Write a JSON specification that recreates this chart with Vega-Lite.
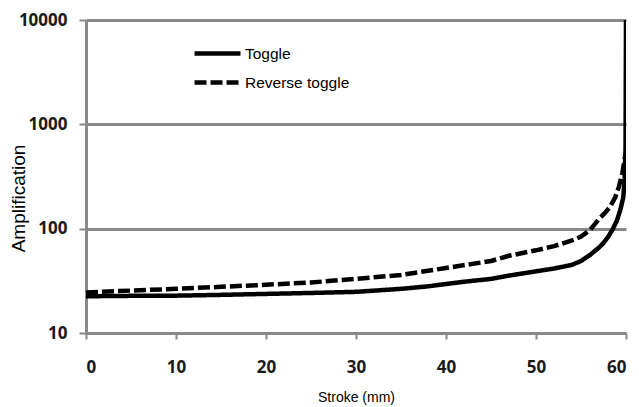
{
  "$schema": "https://vega.github.io/schema/vega-lite/v6.json",
  "width": 540,
  "height": 313,
  "autosize": {"type": "none"},
  "padding": {"left": 86, "top": 20, "right": 13, "bottom": 74},
  "background": "white",
  "config": {"view": {"stroke": null}},
  "data": {"values": [
    {"stroke": 0, "amp": 22.5, "series": "Toggle"},
    {"stroke": 5, "amp": 22.7, "series": "Toggle"},
    {"stroke": 10, "amp": 22.8, "series": "Toggle"},
    {"stroke": 15, "amp": 23.2, "series": "Toggle"},
    {"stroke": 20, "amp": 23.7, "series": "Toggle"},
    {"stroke": 25, "amp": 24.2, "series": "Toggle"},
    {"stroke": 30, "amp": 24.8, "series": "Toggle"},
    {"stroke": 35, "amp": 26.5, "series": "Toggle"},
    {"stroke": 38, "amp": 28, "series": "Toggle"},
    {"stroke": 40, "amp": 29.5, "series": "Toggle"},
    {"stroke": 42, "amp": 31, "series": "Toggle"},
    {"stroke": 45, "amp": 33, "series": "Toggle"},
    {"stroke": 47, "amp": 35.5, "series": "Toggle"},
    {"stroke": 50, "amp": 39, "series": "Toggle"},
    {"stroke": 52, "amp": 41.5, "series": "Toggle"},
    {"stroke": 54, "amp": 45, "series": "Toggle"},
    {"stroke": 55, "amp": 49, "series": "Toggle"},
    {"stroke": 56, "amp": 56, "series": "Toggle"},
    {"stroke": 57, "amp": 66, "series": "Toggle"},
    {"stroke": 57.5, "amp": 73, "series": "Toggle"},
    {"stroke": 58, "amp": 83, "series": "Toggle"},
    {"stroke": 58.5, "amp": 98, "series": "Toggle"},
    {"stroke": 59, "amp": 120, "series": "Toggle"},
    {"stroke": 59.4, "amp": 155, "series": "Toggle"},
    {"stroke": 59.7, "amp": 200, "series": "Toggle"},
    {"stroke": 59.85, "amp": 300, "series": "Toggle"},
    {"stroke": 59.95, "amp": 600, "series": "Toggle"},
    {"stroke": 60, "amp": 10000, "series": "Toggle"},
    {"stroke": 0, "amp": 24.5, "series": "Reverse toggle"},
    {"stroke": 5, "amp": 25.5, "series": "Reverse toggle"},
    {"stroke": 10, "amp": 26.5, "series": "Reverse toggle"},
    {"stroke": 15, "amp": 27.7, "series": "Reverse toggle"},
    {"stroke": 20, "amp": 29, "series": "Reverse toggle"},
    {"stroke": 25, "amp": 30.5, "series": "Reverse toggle"},
    {"stroke": 30, "amp": 33, "series": "Reverse toggle"},
    {"stroke": 35, "amp": 36, "series": "Reverse toggle"},
    {"stroke": 38, "amp": 39.5, "series": "Reverse toggle"},
    {"stroke": 40, "amp": 42, "series": "Reverse toggle"},
    {"stroke": 45, "amp": 49, "series": "Reverse toggle"},
    {"stroke": 47, "amp": 55, "series": "Reverse toggle"},
    {"stroke": 50, "amp": 62, "series": "Reverse toggle"},
    {"stroke": 52, "amp": 68, "series": "Reverse toggle"},
    {"stroke": 54, "amp": 77, "series": "Reverse toggle"},
    {"stroke": 55, "amp": 84, "series": "Reverse toggle"},
    {"stroke": 56, "amp": 97, "series": "Reverse toggle"},
    {"stroke": 57, "amp": 124, "series": "Reverse toggle"},
    {"stroke": 57.5, "amp": 137, "series": "Reverse toggle"},
    {"stroke": 58.2, "amp": 160, "series": "Reverse toggle"},
    {"stroke": 58.8, "amp": 200, "series": "Reverse toggle"},
    {"stroke": 59.2, "amp": 250, "series": "Reverse toggle"},
    {"stroke": 59.6, "amp": 340, "series": "Reverse toggle"},
    {"stroke": 59.9, "amp": 500, "series": "Reverse toggle"}
  ]},
  "mark": {"type": "line", "color": "black", "strokeWidth": 4.5, "clip": true},
  "encoding": {
    "x": {
      "field": "stroke", "type": "quantitative",
      "scale": {"domain": [0, 60], "nice": false},
      "axis": {
        "values": [0, 10, 20, 30, 40, 50, 60],
        "grid": false,
        "domainColor": "#898989", "domainWidth": 3,
        "tickColor": "#898989", "tickWidth": 2, "tickSize": 6,
        "labelFont": "Open Sans", "labelFontWeight": "bold", "labelFontSize": 17, "labelColor": "#1a1a1a",
        "labelPadding": 20,
        "title": "Stroke (mm)",
        "titleFont": "Liberation Sans", "titleFontWeight": "normal", "titleFontSize": 14, "titleColor": "black",
        "titleBaseline": "middle", "titleY": 64
      }
    },
    "y": {
      "field": "amp", "type": "quantitative",
      "scale": {"type": "log", "domain": [10, 10000], "nice": false},
      "axis": {
        "values": [10, 100, 1000, 10000],
        "format": "d",
        "grid": true, "gridColor": "#898989", "gridWidth": 3,
        "domainColor": "#898989", "domainWidth": 3,
        "tickColor": "#898989", "tickWidth": 2, "tickSize": 7,
        "labelFont": "Open Sans", "labelFontWeight": "bold", "labelFontSize": 17, "labelColor": "#1a1a1a",
        "labelPadding": 12,
        "title": "Amplification",
        "titleFont": "Liberation Sans", "titleFontWeight": "normal", "titleFontSize": 19, "titleColor": "black",
        "titleAlign": "center", "titleBaseline": "middle", "titleX": -68, "titleY": 178
      }
    },
    "strokeDash": {
      "field": "series", "type": "nominal",
      "scale": {"domain": ["Toggle", "Reverse toggle"], "range": [[1, 0], [12, 4]]},
      "legend": {
        "title": null, "orient": "none", "legendX": 106, "legendY": 25,
        "symbolType": "stroke", "symbolSize": 2116, "symbolStrokeWidth": 4.5,
        "symbolStrokeColor": "black", "clipHeight": 17,
        "labelFont": "Liberation Sans", "labelFontSize": 15.5, "labelColor": "black",
        "labelOffset": 2, "rowPadding": 12, "padding": 0
      }
    }
  }
}
